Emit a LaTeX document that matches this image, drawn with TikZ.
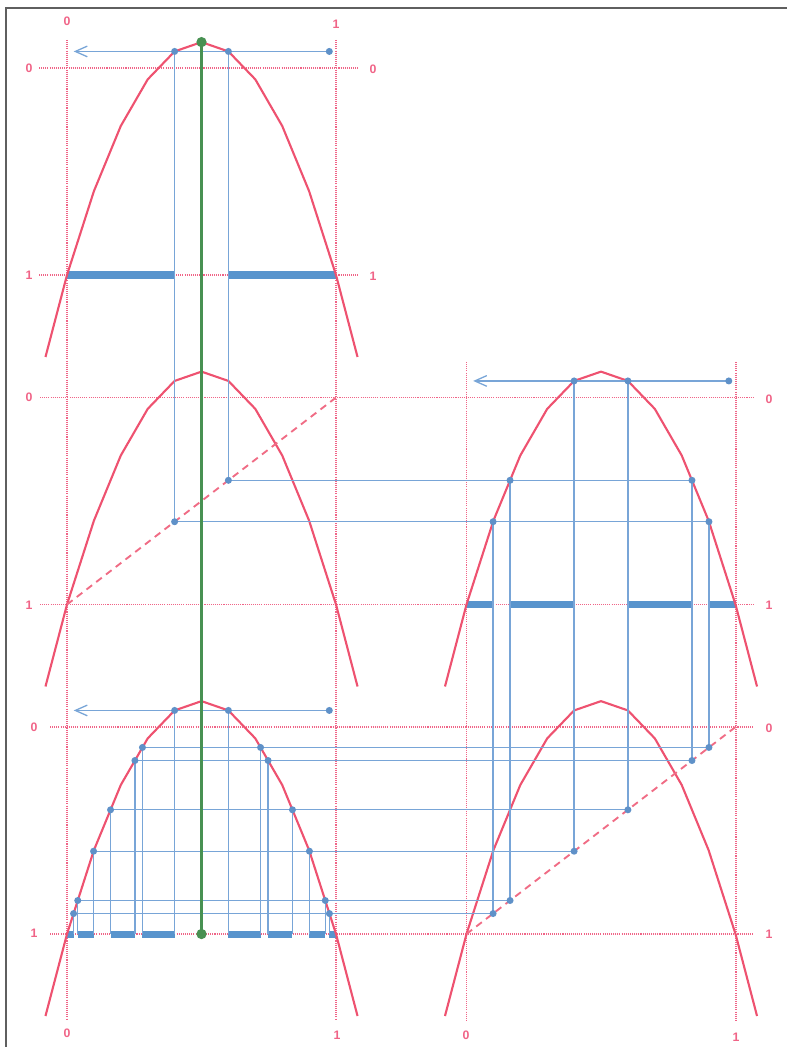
\documentclass[tikz,border=0pt]{standalone}
\usepackage{fontspec}
\setmainfont{Liberation Sans}
\usetikzlibrary{arrows.meta}
\definecolor{CurveRed}{RGB}{238,82,112}
\definecolor{GridPink}{RGB}{240,100,135}
\definecolor{OrbitBlue}{RGB}{120,165,215}
\definecolor{DotBlue}{RGB}{95,145,200}
\definecolor{BarBlue}{RGB}{88,148,205}
\definecolor{MidGreen}{RGB}{72,145,82}
\definecolor{FrameGray}{RGB}{95,95,95}
% the map, drawn as a polyline in panel units (v = 1 - 4.5x(1-x))
\newcommand{\parabola}{%
  \draw[curve] (-0.08,1.396) -- (0,1) -- (0.1,0.595) -- (0.2,0.28) -- (0.3,0.055)
    -- (0.4,-0.08) -- (0.5,-0.125) -- (0.6,-0.08) -- (0.7,0.055) -- (0.8,0.28)
    -- (0.9,0.595) -- (1,1) -- (1.08,1.396);}

\begin{document}
\begin{tikzpicture}[x=0.03cm,y=-0.03cm,
  curve/.style={CurveRed,line width=1.8pt,line join=round},
  guide/.style={GridPink,line width=1.6pt,dash pattern=on 0.9pt off 0.9pt},
  diag/.style={CurveRed!85,line width=1.6pt,dash pattern=on 6pt off 4.5pt},
  orbit/.style={OrbitBlue,line width=1.1pt},
  bar/.style={BarBlue,line width=6pt},
  bluedot/.style={fill=DotBlue},
  tick/.style={text=GridPink,font=\bfseries\fontsize{10.5}{11}\selectfont,inner sep=0pt}]
  \useasboundingbox (0,0) rectangle (787,1047);
  \draw[FrameGray,line width=1pt] (6,1047) -- (6,8) -- (787,8);

  % --- dotted guides ---
  \draw[guide] (67,40) -- (67,1020) (336,40) -- (336,1020);
  \draw[guide] (466.5,362) -- (466.5,1020) (736,362) -- (736,1020);
  \draw[guide] (39,68) -- (358,68) (39,275) -- (358,275);
  \draw[guide] (40,397.5) -- (753,397.5) (40,604.5) -- (753,604.5);
  \draw[guide] (50,727) -- (753,727) (50,934) -- (753,934);

  % labels
  \node[tick] (top0) at (67,21) {0};
  \node[tick] (top1) at (336,24) {1};
  \node[tick] (bot0) at (67,1033) {0};
  \node[tick] (bot1) at (337,1035) {1};
  \node[tick] (bot2) at (466,1035) {0};
  \node[tick] (bot3) at (736,1037) {1};
  \node[tick] (la0) at (29,68) {0};
  \node[tick] (la1) at (29,275) {1};
  \node[tick] (lb0) at (29,397.5) {0};
  \node[tick] (lb1) at (29,605) {1};
  \node[tick] (ld0) at (34,727) {0};
  \node[tick] (ld1) at (34,933) {1};
  \node[tick] (ra0) at (373,69) {0};
  \node[tick] (ra1) at (373,276) {1};
  \node[tick] (rc0) at (769,399) {0};
  \node[tick] (rc1) at (769,605) {1};
  \node[tick] (re0) at (769,728) {0};
  \node[tick] (re1) at (769,934) {1};

  % --- A: top left ---
  \begin{scope}[shift={(67,68)},x=8.07cm,y=-6.21cm]
    \draw[bar] (0,1) -- (0.4,1) (0.6,1) -- (1,1);
    \parabola
    \coordinate (A-top) at (0.5,-0.125);
    \coordinate (A-start) at (0.975,-0.08);
    \coordinate (A-end) at (0.025,-0.08);
    \coordinate (A-l) at (0.4,-0.08);
    \coordinate (A-r) at (0.6,-0.08);
  \end{scope}

  % --- B: middle left ---
  \begin{scope}[shift={(67,397.5)},x=8.07cm,y=-6.21cm]
    \parabola
    \draw[diag] (0,1) -- (1,0);
    \coordinate (B-l) at (0.4,0.6);
    \coordinate (B-r) at (0.6,0.4);
  \end{scope}

  % --- C: middle right ---
  \begin{scope}[shift={(466.5,397.5)},x=8.07cm,y=-6.21cm]
    \draw[bar] (0,1) -- (0.0988,1) (0.1619,1) -- (0.4,1)
               (0.6,1) -- (0.8381,1) (0.9012,1) -- (1,1);
    \parabola
    \coordinate (C-start) at (0.975,-0.08);
    \coordinate (C-end) at (0.025,-0.08);
    \foreach \n/\x/\v in {1/0.0988/0.6, 2/0.1619/0.4, 3/0.4/-0.08,
                          4/0.6/-0.08, 5/0.8381/0.4, 6/0.9012/0.6}
      \coordinate (C-\n) at (\x,\v);
  \end{scope}

  % --- E: bottom right ---
  \begin{scope}[shift={(466.5,727)},x=8.07cm,y=-6.21cm]
    \parabola
    \draw[diag] (0,1) -- (1,0);
    \foreach \n/\x in {1/0.0988, 2/0.1619, 3/0.4, 4/0.6, 5/0.8381, 6/0.9012}
      \coordinate (E-\n) at (\x,1-\x);
  \end{scope}

  % --- D: bottom left ---
  \begin{scope}[shift={(67,727)},x=8.07cm,y=-6.21cm]
    \draw[bar] (0,1) -- (0.0244,1) (0.04,1) -- (0.0988,1)
               (0.1619,1) -- (0.2525,1) (0.2805,1) -- (0.4,1)
               (0.6,1) -- (0.7195,1) (0.7475,1) -- (0.8381,1)
               (0.9012,1) -- (0.96,1) (0.9756,1) -- (1,1);
    \parabola
    \coordinate (D-bot) at (0.5,1);
    \coordinate (D-start) at (0.975,-0.08);
    \coordinate (D-end) at (0.025,-0.08);
    \foreach \n/\x/\v in {a/0.0244/0.9012, b/0.04/0.8381, c/0.0988/0.6,
                          d/0.1619/0.4, e/0.2525/0.1619, f/0.2805/0.0988,
                          g/0.4/-0.08, h/0.6/-0.08, i/0.7195/0.0988,
                          j/0.7475/0.1619, k/0.8381/0.4, l/0.9012/0.6,
                          m/0.96/0.8381, n/0.9756/0.9012} {
      \coordinate (D-\n) at (\x,\v);
      \coordinate (D-\n1) at (\x,1);
    }
  \end{scope}

  % --- orbit lines ---
  \draw[orbit,-{Straight Barb[length=3.6mm,width=3.2mm]}] (A-start) -- (A-end);
  \draw[orbit,-{Straight Barb[length=3.6mm,width=3.2mm]}] (C-start) -- (C-end);
  \draw[orbit,-{Straight Barb[length=3.6mm,width=3.2mm]}] (D-start) -- (D-end);
  \draw[orbit] (A-l) -- (B-l) -- (C-6);
  \draw[orbit] (A-r) -- (B-r) -- (C-5);
  \foreach \n in {1,...,6}
    \draw[orbit] (C-\n) -- (E-\n);
  \draw[orbit] (E-6) -- (D-f);
  \draw[orbit] (E-5) -- (D-e);
  \draw[orbit] (E-4) -- (D-d);
  \draw[orbit] (E-3) -- (D-c);
  \draw[orbit] (E-2) -- (D-b);
  \draw[orbit] (E-1) -- (D-a);
  \foreach \n in {a,b,c,d,e,f,g,h,i,j,k,l,m,n}
    \draw[orbit] (D-\n) -- (D-\n1);

  % dots
  \foreach \p in {A-start,A-l,A-r,B-l,B-r,C-start,D-start}
    \fill[bluedot] (\p) circle (3pt);
  \foreach \n in {1,...,6}
    \fill[bluedot] (C-\n) circle (3pt) (E-\n) circle (3pt);
  \foreach \n in {a,b,c,d,e,f,g,h,i,j,k,l,m,n}
    \fill[bluedot] (D-\n) circle (3pt);

  % critical point
  \draw[MidGreen,line width=1.9pt] (A-top) -- (D-bot);
  \fill[MidGreen] (A-top) circle (4.4pt) (D-bot) circle (4.4pt);
\end{tikzpicture}
\end{document}
